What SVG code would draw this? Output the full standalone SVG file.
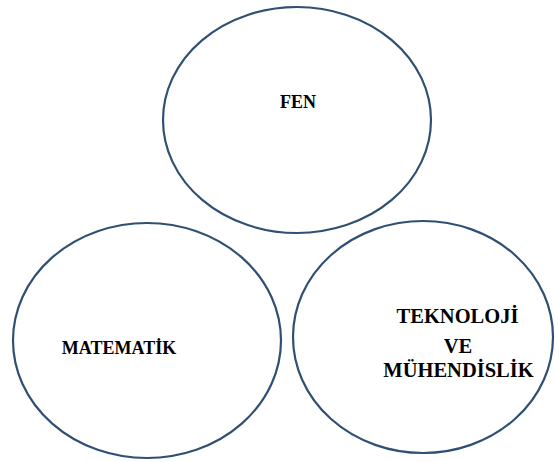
<svg xmlns="http://www.w3.org/2000/svg" width="555" height="462" viewBox="0 0 555 462">
<style>
.e{fill:none;stroke:#2f5073;stroke-width:2.2}
.t{font-family:'Liberation Serif','Times New Roman','DejaVu Serif',serif;font-weight:700;fill:#000;text-anchor:middle}
</style>
<rect width="555" height="462" fill="#fff"/>
<g id="connectors"/>
<g id="fen">
<ellipse class="e" cx="297" cy="120" rx="134" ry="113"/>
<text class="t" x="298" y="108" font-size="18" font-family="Liberation Serif, serif">FEN</text>
</g>
<g id="matematik">
<ellipse class="e" cx="147" cy="340.5" rx="134" ry="117.5"/>
<text class="t" x="119" y="354" font-size="18" font-family="Liberation Serif, serif">MATEMATİK</text>
</g>
<g id="teknoloji">
<ellipse class="e" cx="423" cy="337" rx="130" ry="116"/>
<text class="t" x="457.5" y="323" font-size="20.5" font-family="Liberation Serif, serif">TEKNOLOJİ</text>
<text class="t" x="458" y="353" font-size="20.5" font-family="Liberation Serif, serif">VE</text>
<text class="t" x="458.5" y="377" font-size="20.5" font-family="Liberation Serif, serif">MÜHENDİSLİK</text>
</g>
</svg>
